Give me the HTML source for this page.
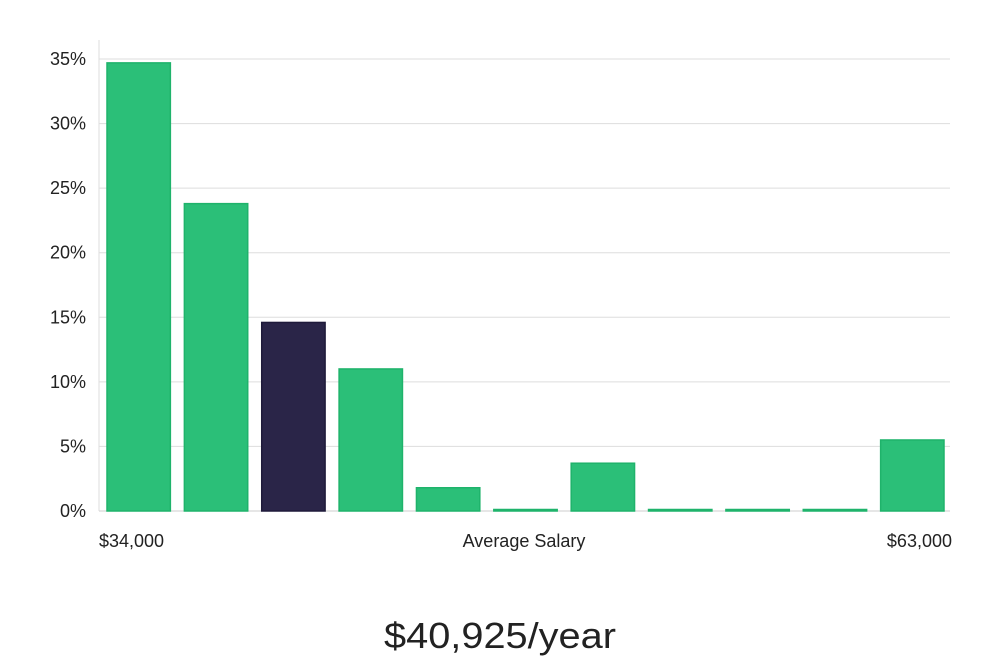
<!DOCTYPE html>
<html><head><meta charset="utf-8"><style>
body{margin:0;background:#fff;width:1000px;height:660px;overflow:hidden;font-family:"Liberation Sans","DejaVu Sans",sans-serif;}
</style></head><body>
<svg width="1000" height="660">
<g id="grid"></g><g id="bars"></g><g id="labels"></g>
<text x="99" y="547" font-size="18" fill="#222">$34,000</text>
<text x="524" y="547" font-size="18" fill="#222" text-anchor="middle">Average Salary</text>
<text x="952" y="547" font-size="18" fill="#222" text-anchor="end">$63,000</text>
<text x="500" y="648" font-size="36" fill="#222" text-anchor="middle" textLength="232" lengthAdjust="spacingAndGlyphs">$40,925/year</text>
</svg>
<script>
const values=[34.7,23.8,14.6,11.0,1.8,0.1,3.7,0.1,0.1,0.1,5.5];
const highlight=[false,false,true,false,false,false,false,false,false,false,false];
const yTicks=[0,5,10,15,20,25,30,35];
const NS="http://www.w3.org/2000/svg";
const x0=99,x1=950,yBase=511,yTop=59,maxV=35;
const y=v=>yBase-(v/maxV)*(yBase-yTop);
const slot=(x1-x0)/values.length;
function mk(t,a,p){const e=document.createElementNS(NS,t);for(const k in a)e.setAttribute(k,a[k]);p.appendChild(e);return e;}
const g=document.getElementById('grid');
yTicks.forEach(t=>{
 const l=mk('line',{x1:x0,x2:x1,y1:y(t),y2:y(t),stroke:t===0?'#ccc':'#ddd','stroke-width':1},g);
 
 
 const tx=mk('text',{x:86,y:y(t)+6,'font-size':18,fill:'#222','text-anchor':'end'},g);
 tx.textContent=t+'%';
 
 
});
const ax=mk('line',{x1:x0,x2:x0,y1:40,y2:yBase,stroke:'#ddd'},g);


const b=document.getElementById('bars');
values.forEach((v,i)=>{
 const bx=x0+i*slot+8, bw=slot-14;
 const top=y(v), h=Math.max(1.5,yBase-top);
 const r=mk('rect',{x:bx,y:yBase-h,width:bw,height:h,fill:highlight[i]?'#2a2548':'#2bbf78',stroke:highlight[i]?'#1e1a3a':'#1fb36b','stroke-width':1.5},b);
 
 
});
</script>
</body></html>
